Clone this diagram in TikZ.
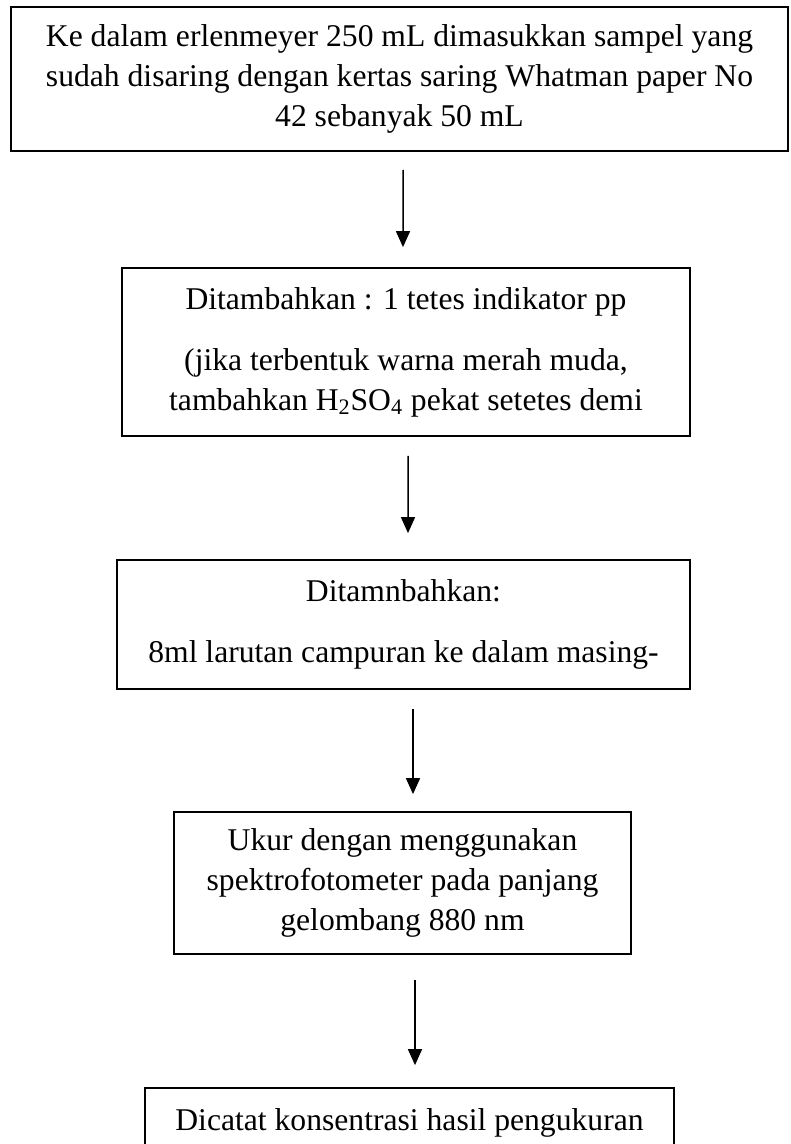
\documentclass[tikz,border=0pt]{standalone}
\usepackage{fontspec}
\setmainfont{Liberation Serif}
\usetikzlibrary{calc,arrows.meta}

\begin{document}
\begin{tikzpicture}[x=0.2mm,y=-0.2mm,
    every node/.style={font=\fontsize{18pt}{22.8pt}\selectfont},
    box/.style={draw,line width=0.35mm,inner sep=0pt,align=center},
    flow/.style={line width=0.3mm,-{Triangle[width=2.8mm,length=3.2mm]}}]
  \useasboundingbox (0,0) rectangle (790,1144);
  % step 1: sample
  \node[box,minimum width=155.4mm,minimum height=28.8mm] (box1) at (399.5,79)
    {Ke dalam erlenmeyer 250 mL dimasukkan sampel yang\\
     sudah disaring dengan kertas saring Whatman paper No\\
     42 sebanyak 50 mL};
  % step 2: indicator (last line runs past the box)
  \node[box,minimum width=113.6mm,minimum height=33.6mm] (box2) at (406,352)
    {Ditambahkan : 1 tetes indikator pp\\[12pt]
     (jika terbentuk warna merah muda,\\
     tambahkan H\textsubscript{2}SO\textsubscript{4} pekat setetes demi};
  % step 3: mixed solution
  \node[box,minimum width=114.6mm,minimum height=25.8mm] (box3) at (403.5,624.5)
    {Ditamnbahkan:\\[12pt]
     8ml larutan campuran ke dalam masing-};
  % step 4: measure
  \node[box,minimum width=91.4mm,minimum height=28.4mm] (box4) at (402.5,883)
    {Ukur dengan menggunakan\\
     spektrofotometer pada panjang\\
     gelombang 880 nm};
  % step 5: record (box runs off the page)
  \node[box,minimum width=105.8mm,minimum height=14mm] (box5) at (409.5,1123)
    {Dicatat konsentrasi hasil pengukuran};
  % arrows, free-standing between the boxes
  \draw[flow] ($(box1.south)+(3.5,18)$) -- ($(box2.north)+(-3,-20)$);
  \draw[flow] ($(box2.south)+(2,19)$) -- ($(box3.north)+(4.5,-26)$);
  \draw[flow] ($(box3.south)+(9.5,19)$) -- ($(box4.north)+(10.5,-17)$);
  \draw[flow] ($(box4.south)+(12.5,25)$) -- ($(box5.north)+(5.5,-22)$);
\end{tikzpicture}
\end{document}
